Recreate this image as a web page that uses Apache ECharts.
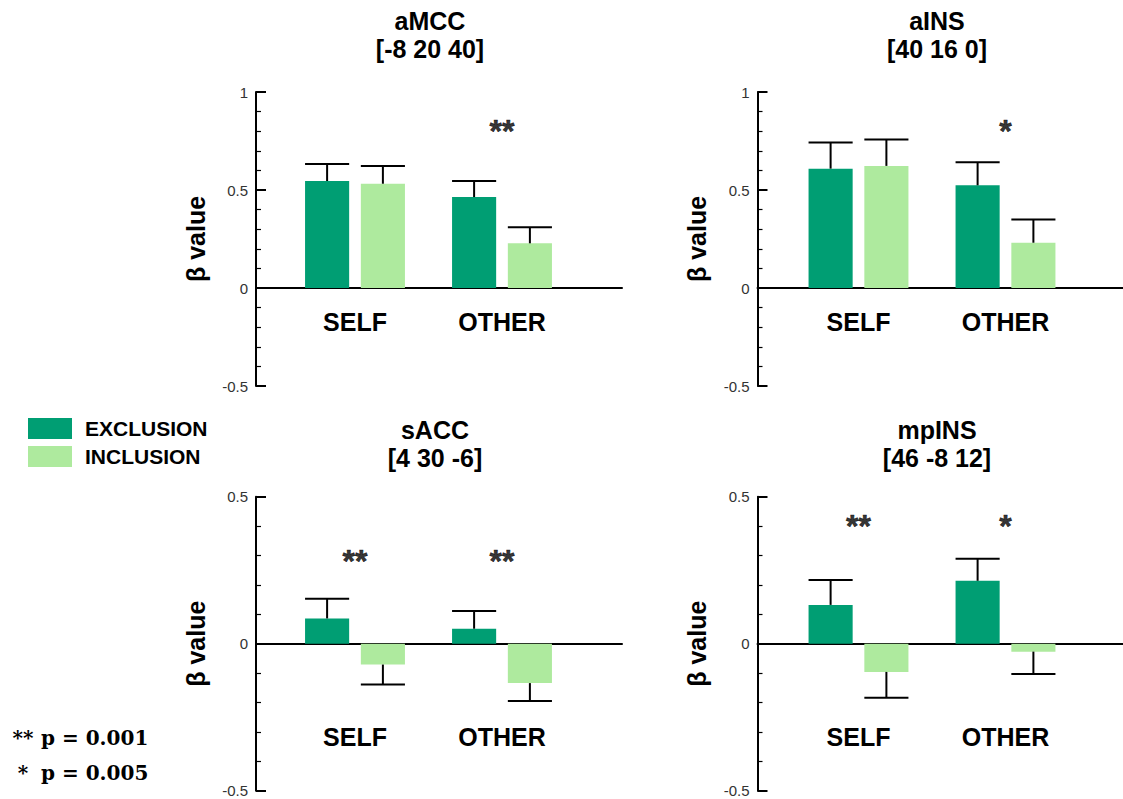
<!DOCTYPE html>
<html><head><meta charset="utf-8">
<script src="https://cdn.jsdelivr.net/npm/echarts@6/dist/echarts.min.js"></script>
<style>html,body{margin:0;padding:0;background:#fff}#c{width:1123px;height:799px}</style>
</head><body><div id="c"></div>
<script>
// ---------------- data ----------------
const categories = ['SELF', 'OTHER'];
const seriesNames = ['EXCLUSION', 'INCLUSION'];
const panelTitles = ['aMCC\n[-8 20 40]', 'aINS\n[40 16 0]', 'sACC\n[4 30 -6]', 'mpINS\n[46 -8 12]'];
const yAxisName = 'β value';
const topRange = [-0.5, 1];
const bottomRange = [-0.5, 0.5];
const tickStep = 0.5;

// aMCC
const aMCC_excl = [0.546, 0.464];
const aMCC_exclErrEnd = [0.633, 0.546];
const aMCC_incl = [0.532, 0.228];
const aMCC_inclErrEnd = [0.622, 0.310];
const aMCC_sig = ['', '**'];
const aMCC_sigY = 0.80;
// aINS
const aINS_excl = [0.609, 0.524];
const aINS_exclErrEnd = [0.742, 0.642];
const aINS_incl = [0.623, 0.231];
const aINS_inclErrEnd = [0.758, 0.350];
const aINS_sig = ['', '*'];
const aINS_sigY = 0.80;
// sACC
const sACC_excl = [0.086, 0.051];
const sACC_exclErrEnd = [0.153, 0.111];
const sACC_incl = [-0.071, -0.134];
const sACC_inclErrEnd = [-0.139, -0.195];
const sACC_sig = ['**', '**'];
const sACC_sigY = 0.28;
// mpINS
const mpINS_excl = [0.132, 0.214];
const mpINS_exclErrEnd = [0.217, 0.289];
const mpINS_incl = [-0.096, -0.027];
const mpINS_inclErrEnd = [-0.184, -0.103];
const mpINS_sig = ['**', '*'];
const mpINS_sigY = 0.40;

const footStars = ['**', '*'];
const footTexts = ['p = 0.001', 'p = 0.005'];

// ---------------- style / layout ----------------
const colors = ['#009E73', '#AEEA9E'];
const FONT = '"Liberation Sans", Arial, sans-serif';
const BAR_RATIO = 0.30, GAP_RATIO = 0.265;

const panels = [
  {title: panelTitles[0], tx: 430, ty: 35, axisX: 256, lineLen: 366, barLeft: 281.5, top: 92, range: topRange,
   excl: aMCC_excl, exclEnd: aMCC_exclErrEnd, incl: aMCC_incl, inclEnd: aMCC_inclErrEnd, sig: aMCC_sig, sigY: aMCC_sigY, labelMargin: -77},
  {title: panelTitles[1], tx: 937, ty: 35, axisX: 757.5, lineLen: 366, barLeft: 785, top: 92, range: topRange,
   excl: aINS_excl, exclEnd: aINS_exclErrEnd, incl: aINS_incl, inclEnd: aINS_inclErrEnd, sig: aINS_sig, sigY: aINS_sigY, labelMargin: -77},
  {title: panelTitles[2], tx: 435, ty: 443.5, axisX: 256, lineLen: 366, barLeft: 281.5, top: 496.7, range: bottomRange,
   excl: sACC_excl, exclEnd: sACC_exclErrEnd, incl: sACC_incl, inclEnd: sACC_inclErrEnd, sig: sACC_sig, sigY: sACC_sigY, labelMargin: -66},
  {title: panelTitles[3], tx: 937, ty: 443.5, axisX: 757.5, lineLen: 366, barLeft: 785, top: 496.7, range: bottomRange,
   excl: mpINS_excl, exclEnd: mpINS_exclErrEnd, incl: mpINS_incl, inclEnd: mpINS_inclErrEnd, sig: mpINS_sig, sigY: mpINS_sigY, labelMargin: -66}
];

function errRender(side) {
  return function (params, api) {
    const i = api.value(0), m = api.value(1), e = api.value(2);
    const band = api.size([1, 0])[0];
    const bw = band * BAR_RATIO, gap = bw * GAP_RATIO;
    const off = side * (bw / 2 + gap / 2);
    const p0 = api.coord([i, m]), p1 = api.coord([i, e]);
    const x = p0[0] + off;
    return {type: 'group', children: [
      {type: 'line', shape: {x1: x, y1: p0[1], x2: x, y2: p1[1]}, style: {stroke: '#000', lineWidth: 2}},
      {type: 'line', shape: {x1: x - bw / 2, y1: p1[1], x2: x + bw / 2, y2: p1[1]}, style: {stroke: '#000', lineWidth: 2}}
    ]};
  };
}

const grid = [], xAxis = [], yAxis = [], series = [], graphic = [];
panels.forEach((p, k) => {
  const ga = 2 * k, gb = 2 * k + 1;
  grid.push({left: p.axisX, top: p.top, width: p.lineLen, height: 294, containLabel: false, outerBoundsMode: 'none'});
  grid.push({left: p.barLeft, top: p.top, width: 294, height: 294, containLabel: false, outerBoundsMode: 'none'});
  // axis grid
  xAxis.push({type: 'value', gridIndex: ga, min: 0, max: 1,
    axisLine: {show: true, onZero: true, lineStyle: {color: '#000', width: 2}},
    axisTick: {show: false}, axisLabel: {show: false}, splitLine: {show: false}});
  yAxis.push({type: 'value', gridIndex: ga, min: p.range[0], max: p.range[1], interval: tickStep,
    axisLine: {show: true, onZero: false, lineStyle: {color: '#000', width: 2}},
    axisTick: {show: true, inside: true, length: 10, lineStyle: {color: '#000', width: 2}},
    minorTick: {show: true, splitNumber: 5, length: 5, lineStyle: {color: '#000', width: 1.2}},
    splitLine: {show: false}, minorSplitLine: {show: false},
    axisLabel: {color: '#333', fontSize: 15, margin: 8, fontFamily: FONT},
    name: yAxisName, nameLocation: 'middle', nameGap: 48,
    nameTextStyle: {fontSize: 25, fontWeight: 'bold', color: '#000', fontFamily: FONT}});
  // bars grid
  xAxis.push({type: 'category', gridIndex: gb, data: categories, position: 'bottom',
    axisLine: {show: false, onZero: false},
    axisTick: {show: false}, splitLine: {show: false},
    axisLabel: {color: '#000', fontSize: 25, fontWeight: 'bold', fontFamily: FONT, margin: p.labelMargin}});
  yAxis.push({type: 'value', gridIndex: gb, min: p.range[0], max: p.range[1], interval: tickStep, show: false});

  series.push({type: 'bar', name: seriesNames[0], xAxisIndex: gb, yAxisIndex: gb, data: p.excl,
    barWidth: (BAR_RATIO * 100) + '%', barGap: (GAP_RATIO * 100) + '%', itemStyle: {color: colors[0]}, silent: true});
  series.push({type: 'bar', name: seriesNames[1], xAxisIndex: gb, yAxisIndex: gb, data: p.incl,
    barWidth: (BAR_RATIO * 100) + '%', barGap: (GAP_RATIO * 100) + '%', itemStyle: {color: colors[1]}, silent: true});
  series.push({type: 'custom', xAxisIndex: gb, yAxisIndex: gb, z: 3, silent: true, clip: false,
    data: categories.map((c, i) => [i, p.excl[i], p.exclEnd[i]]), renderItem: errRender(-1)});
  series.push({type: 'custom', xAxisIndex: gb, yAxisIndex: gb, z: 3, silent: true, clip: false,
    data: categories.map((c, i) => [i, p.incl[i], p.inclEnd[i]]), renderItem: errRender(1)});
  series.push({type: 'scatter', xAxisIndex: gb, yAxisIndex: gb, symbolSize: 1, silent: true, z: 4,
    itemStyle: {color: 'transparent'},
    data: p.sig.map((s, i) => [i, p.sigY, s]).filter(d => d[2]),
    label: {show: true, position: 'inside', formatter: q => q.value[2], color: '#000', fontSize: 32, fontWeight: 'bold', fontFamily: FONT,
      textBorderColor: '#000', textBorderWidth: 0.6}});

  graphic.push({type: 'text', x: p.tx, y: p.ty, silent: true,
    style: {text: p.title, fill: '#000', font: 'bold 25px ' + FONT, align: 'center', verticalAlign: 'middle', lineHeight: 28}});
});

const footY = [738, 773];
footStars.forEach((s, i) => {
  graphic.push({type: 'text', x: 23, y: footY[i], silent: true,
    style: {text: s, fill: '#000', font: 'bold 20px "DejaVu Serif", serif', align: 'center', verticalAlign: 'middle'}});
  graphic.push({type: 'text', x: 41, y: footY[i], silent: true,
    style: {text: footTexts[i], fill: '#000', font: 'bold 20px "DejaVu Serif", serif', align: 'left', verticalAlign: 'middle'}});
});

const option = {
  animation: false,
  backgroundColor: '#fff',
  legend: {data: seriesNames, orient: 'vertical', left: 28, top: 418, padding: 0, itemWidth: 44, itemHeight: 21, itemGap: 7,
    icon: 'rect', selectedMode: false,
    textStyle: {fontSize: 21, fontWeight: 'bold', color: '#000', fontFamily: FONT, padding: [0, 0, 0, 8]}},
  grid, xAxis, yAxis, series, graphic
};
const chart = echarts.init(document.getElementById('c'), null, {renderer: 'svg', width: 1123, height: 799});
chart.setOption(option);
</script></body></html>
